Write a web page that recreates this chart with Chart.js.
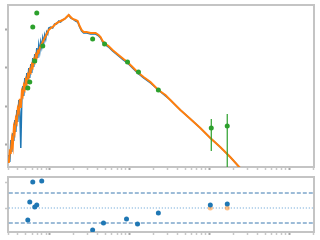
<!DOCTYPE html>
<html><head><meta charset="utf-8">
<script src="https://cdn.jsdelivr.net/npm/chart.js@4/dist/chart.umd.min.js"></script>
<style>
html,body{margin:0;padding:0;background:#fff;width:320px;height:240px;overflow:hidden}
#c1{position:absolute;left:0;top:0}
#c2{position:absolute;left:0;top:172px}
</style></head><body>
<canvas id="c1" width="320" height="172"></canvas>
<canvas id="c2" width="320" height="68"></canvas>
<script>
// spectrum wavelengths
const specX = [0.307,0.316,0.326,0.335,0.345,0.355,0.365,0.376,0.387,0.398,0.410,0.422,0.434,0.447,0.460,0.473,0.487,0.501,0.516,0.531,0.546,0.562,0.579,0.596,0.613,0.631,0.649,0.668,0.688,0.708,0.729,0.750,0.772,0.794,0.818,0.841,0.866,0.891,0.917,0.944,0.972,1.03,1.09,1.15,1.22,1.30,1.37,1.45,1.54,1.63,1.73,1.83,1.94,2.11,2.24,2.37,2.51,2.66,2.90,3.25,3.76,4.10,4.34,4.60,5.01,5.46,6.13,7.29,8.41,9.44,10.9,12.6,15.0,18.3,23.0,28.2,32.5,43.4,56.2,77.2,103,137,183,237,307];
// observed (noisy) spectrum
const specObs = [0.550,0.362,1.35,0.658,2.05,1.27,4.46,2.18,8.11,3.96,14.8,7.20,0.836,14.8,34.1,18.7,55.0,26.8,74.2,38.4,100,55.0,127,74.2,182,106,231,135,331,182,396,260,474,351,601,446,720,566,861,764,1094,1161,1094,1390,1390,1663,1566,1766,1874,2112,2380,1990,1874,1663,1566,1161,914,811,811,764,764,678,601,474,396,351,276,205,161,135,100,74.2,55.0,40.8,26.8,18.7,14.8,8.11,5.03,2.76,1.52,0.887,0.488,0.268,0.157];
// model spectrum
const specModel = [0.341,0.699,0.658,1.35,0.942,2.76,2.18,4.73,3.96,8.61,7.20,15.7,9.14,23.8,19.9,34.1,28.5,48.8,40.8,65.8,58.4,88.7,78.7,120,106,161,143,218,193,276,260,331,373,420,474,534,601,678,764,861,971,1094,1161,1309,1475,1566,1663,1766,1874,2112,2380,2112,1874,1766,1663,1233,971,861,861,811,811,720,639,503,420,373,293,218,171,143,106,78.7,58.4,43.3,26.8,19.9,14.8,8.11,5.03,2.76,1.52,0.887,0.488,0.268,0.157];
// photometry
const photX = [0.531,0.562,0.613,0.649,0.688,0.818,3.45,4.87,9.44,12.96,23.0,105.9,167.9];
const photY = [30.2,43.3,1161,152,2683,373,567,420,143,78.7,26.8,2.76,3.12];
const photLo = [null,null,null,null,null,null,null,null,null,null,null,0.698,0.1];
const photHi = [null,null,null,null,null,null,null,null,null,null,null,4.73,6.38];
// residuals
const resX = [0.531,0.562,0.613,0.649,0.688,0.794,3.45,4.72,9.17,12.6,23.0,103,168];
const resY = [-2.4,1.2,5.2,0.2,0.6,5.4,-4.4,-3.0,-2.2,-3.2,-1.0,0.6,0.8];
const res2X = [103,168];
const res2Y = [0,0];
const residBands = [-3,3];
const residZero = 0;
const residTicks = [0,5];
// axis limits
const X_MIN = 0.307, X_MAX = 2053;
const Y_MIN = 0.268, Y_MAX = 4330;
const R_MIN = -4.8, R_MAX = 6.2;

const SPINE = '#c4c4c4';
const pts = (xs, ys) => xs.map((x, i) => ({x, y: ys[i]}));
const errData = [];
photX.forEach((x, i) => { if (photLo[i] !== null) { errData.push({x, y: photLo[i]}, {x, y: photHi[i]}, {x, y: null}); } });

function intMantissa(v) {
  const e = Math.floor(Math.log10(v) + 1e-9);
  const m = v / Math.pow(10, e);
  return Math.abs(m - Math.round(m)) < 1e-6;
}
function pow10(v) {
  const e = Math.log10(v);
  return Math.abs(e - Math.round(e)) < 1e-6;
}
const tickGrid = {
  display: true, drawOnChartArea: false, drawTicks: true, tickLength: 3,
  tickColor: c => (c.tick && c.tick.major) ? '#a8a8a8' : '#c8c8c8',
  tickWidth: c => (c.tick && c.tick.major) ? 2 : 1.5
};
const border = {display: true, color: SPINE, width: 2};
const frameAxes = {
  x2: {type: 'linear', position: 'top', min: 0, max: 1, ticks: {display: false}, grid: {display: false, drawTicks: false}, border, afterFit: s => { s.height = 0; }},
  y2: {type: 'linear', position: 'right', min: 0, max: 1, ticks: {display: false}, grid: {display: false, drawTicks: false}, border, afterFit: s => { s.width = 0; }}
};
const xAxis = (h) => ({
  type: 'logarithmic', position: 'bottom', min: X_MIN, max: X_MAX,
  ticks: {display: false}, grid: tickGrid, border,
  afterBuildTicks: s => { s.ticks = s.ticks.filter(t => intMantissa(t.value)); },
  afterFit: s => { s.height = h; }
});
const common = {
  responsive: false, animation: false, devicePixelRatio: 1,
  plugins: {legend: {display: false}, tooltip: {enabled: false}},
  elements: {line: {tension: 0}},
};

new Chart(document.getElementById('c1'), {
  type: 'line',
  data: {datasets: [
    {data: pts(specX, specObs), borderColor: '#1f77b4', borderWidth: 1.5, pointRadius: 0, order: 4},
    {data: pts(specX, specModel), borderColor: '#ff7f0e', borderWidth: 2, pointRadius: 0, order: 3},
    {data: errData, borderColor: '#2ca02c', borderWidth: 1.2, pointRadius: 0, spanGaps: false, order: 2},
    {data: pts(photX, photY), showLine: false, pointRadius: 2.5, pointBackgroundColor: '#2ca02c', pointBorderWidth: 0, order: 1}
  ]},
  options: Object.assign({}, common, {
    layout: {padding: {top: 5, right: 6, left: 0, bottom: 0}},
    scales: Object.assign({
      x: xAxis(5),
      y: {type: 'logarithmic', min: Y_MIN, max: Y_MAX, ticks: {display: false}, grid: tickGrid, border,
          afterBuildTicks: s => { s.ticks = s.ticks.filter(t => pow10(t.value)); },
          afterFit: s => { s.width = 8; }}
    }, frameAxes)
  })
});

new Chart(document.getElementById('c2'), {
  type: 'line',
  data: {datasets: [
    {data: pts([X_MIN, X_MAX], [residBands[1], residBands[1]]), borderColor: '#3a78b0', borderWidth: 1, borderDash: [4, 2], pointRadius: 0, order: 5},
    {data: pts([X_MIN, X_MAX], [residBands[0], residBands[0]]), borderColor: '#3a78b0', borderWidth: 1, borderDash: [4, 2], pointRadius: 0, order: 5},
    {data: pts([X_MIN, X_MAX], [residZero, residZero]), borderColor: '#5a9cd2', borderWidth: 1.2, borderDash: [1, 2], pointRadius: 0, order: 4},
    {data: pts(res2X, res2Y), showLine: false, pointRadius: 2.5, pointBackgroundColor: 'rgba(255,127,14,0.5)', pointBorderWidth: 0, order: 2},
    {data: pts(resX, resY), showLine: false, pointRadius: 2.5, pointBackgroundColor: '#1f77b4', pointBorderWidth: 0, order: 1}
  ]},
  options: Object.assign({}, common, {
    layout: {padding: {top: 5, right: 6, left: 0, bottom: 0}},
    scales: Object.assign({
      x: xAxis(8),
      y: {type: 'linear', min: R_MIN, max: R_MAX, ticks: {display: false}, grid: tickGrid, border,
          afterBuildTicks: s => { s.ticks = residTicks.map(v => ({value: v})); },
          afterFit: s => { s.width = 8; }}
    }, frameAxes)
  })
});
</script>
</body></html>
